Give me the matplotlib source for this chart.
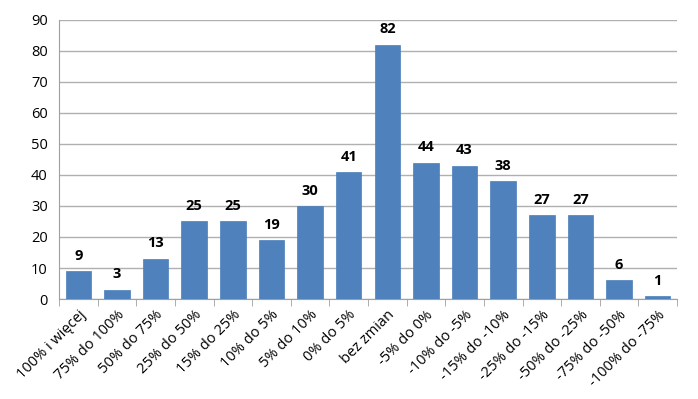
import matplotlib
matplotlib.use("Agg")
import matplotlib.pyplot as plt
import numpy as np

categories = ["100% i więcej", "75% do 100%", "50% do 75%", "25% do 50%", "15% do 25%",
              "10% do 5%", "5% do 10%", "0% do 5%", "bez zmian", "-5% do 0%",
              "-10% do -5%", "-15% do -10%", "-25% do -15%", "-50% do -25%",
              "-75% do -50%", "-100% do -75%"]
values = [9, 3, 13, 25, 25, 19, 30, 41, 82, 44, 43, 38, 27, 27, 6, 1]
yticks = [0, 10, 20, 30, 40, 50, 60, 70, 80, 90]

plt.rcParams['font.family'] = ['Open Sans', 'DejaVu Sans']

fig = plt.figure(figsize=(6.98, 3.99), dpi=100)
ax = fig.add_axes([0.0845, 0.2506, 0.8855, 0.6994])

x = np.arange(len(categories))
ax.bar(x, values, width=0.66, color="#4F81BD", edgecolor="#4A7EBB", linewidth=0.5, zorder=3)
for xi, v in zip(x, values):
    ax.annotate(str(v), (xi, v), xytext=(0, 6), textcoords="offset points",
                ha="center", va="bottom", fontsize=10.5, fontweight="bold")

ax.set_xlim(-0.5, len(categories) - 0.5)
ax.set_ylim(0, 90)
ax.set_yticks(yticks)
ax.set_yticklabels([str(t) for t in yticks], fontsize=10.5)
ax.yaxis.grid(True, color="#B0B0B0", linewidth=1.0, zorder=0)
ax.tick_params(axis="y", length=0, pad=8)

ax.set_xticks(x)
ax.set_xticklabels(categories, rotation=45, ha="right", rotation_mode="anchor", fontsize=10.5)
ax.tick_params(axis="x", length=0, pad=6)
ax.set_xticks(np.arange(-0.5, len(categories) + 0.5, 1), minor=True)
ax.tick_params(axis="x", which="minor", length=5, direction="out", color="#A0A0A0")

for s in ["top", "right"]:
    ax.spines[s].set_visible(False)
ax.spines["left"].set_color("#A0A0A0")
ax.spines["bottom"].set_color("#A0A0A0")

fig.savefig("out.png", dpi=100)
